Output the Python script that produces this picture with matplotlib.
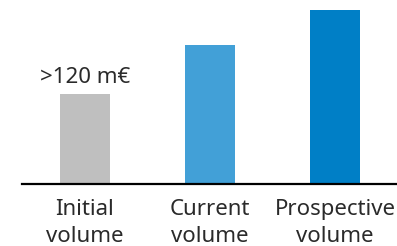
import matplotlib
matplotlib.use('Agg')
import matplotlib.pyplot as plt

# bar chart values (arbitrary units)
categories = ['Initial\nvolume', 'Current\nvolume', 'Prospective\nvolume']
values = [120, 186, 233]
colors = ['#bfbfbf', '#42a0d7', '#007fc6']
label_text = '>120 m€'

plt.rcParams['font.family'] = ['Noto Sans', 'DejaVu Sans']

fig = plt.figure(figsize=(3.97, 2.46), dpi=100)
# axes placed so baseline sits ~183px down and tallest bar reaches ~10px
ax = fig.add_axes([22 / 397, (246 - 183.5) / 246, 375 / 397, 173.5 / 246])

x = range(len(values))
ax.bar(x, values, width=0.4, color=colors)
ax.set_xlim(-0.504, 2.496)
ax.set_ylim(0, values[-1])

ax.annotate(label_text, xy=(0, values[0]), xytext=(0, 8), textcoords='offset points',
            ha='center', va='baseline', fontsize=16, color='#2a2a2a')

ax.set_xticks(list(x))
ax.set_xticklabels(categories, fontsize=16, color='#2a2a2a', linespacing=1.4)
ax.tick_params(axis='x', length=0, pad=11)
ax.set_yticks([])

for side in ['top', 'right', 'left']:
    ax.spines[side].set_visible(False)
ax.spines['bottom'].set_linewidth(1.6)
ax.spines['bottom'].set_color('black')

fig.savefig('out.png', dpi=100)
